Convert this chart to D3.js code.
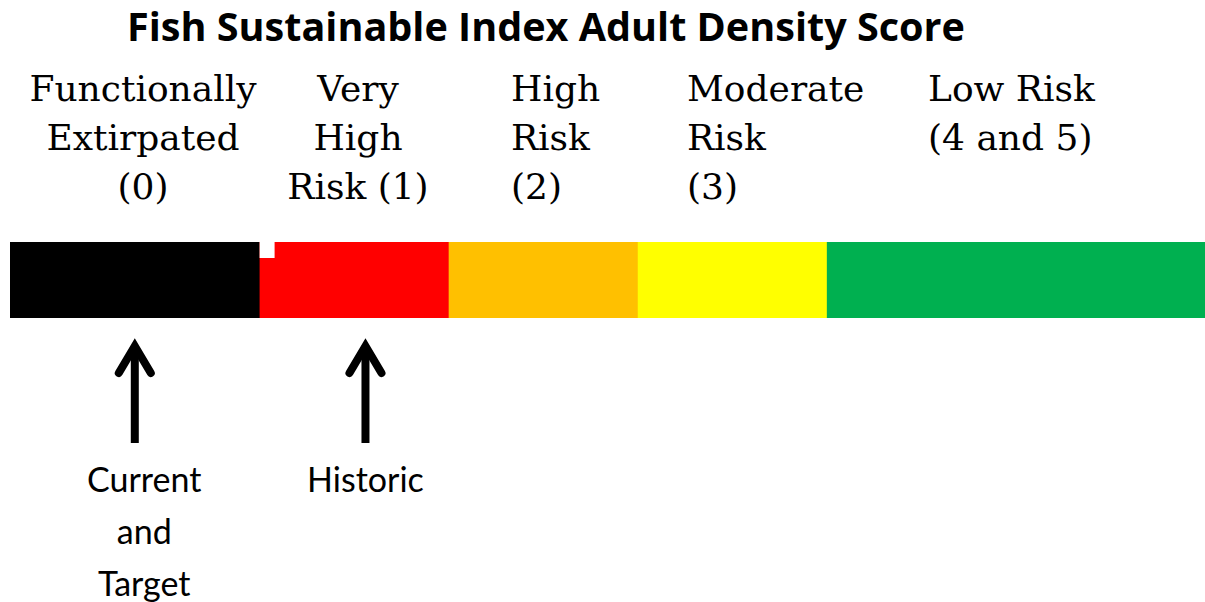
<!DOCTYPE html>
<html>
<head>
<meta charset="utf-8">
<script src="https://cdn.jsdelivr.net/npm/d3@7"></script>
<style>
  body { margin: 0; background: #fff; }
  svg { display: block; }
</style>
</head>
<body>
<div id="chart"></div>
<script>
// chart size
const width = 1205;
const height = 602;

// score categories, left to right
const categories = [
    ['Functionally', 'Extirpated', '(0)'],
    ['Very', 'High', 'Risk (1)'],
    ['High', 'Risk', '(2)'],
    ['Moderate', 'Risk', '(3)'],
    ['Low Risk', '(4 and 5)']
];
// segment edges, in bar units (first block is a bit wider, last holds 4 and 5)
const segmentEdges = [0, 1.32, 2.32, 3.32, 4.32, 6.32];
const segmentColors = ['#000000', '#ff0000', '#ffc000', '#ffff00', '#00b050'];

// markers under the bar
const markerNames = [['Current', 'and', 'Target'], ['Historic']];
const markerValues = [0.66, 1.88];
const markerLabelValues = [0.71, 1.88];

const title = 'Fish Sustainable Index Adult Density Score';

const svg = d3.select('#chart')
    .append('svg')
    .attr('width', width)
    .attr('height', height);

const x = d3.scaleLinear()
    .domain([0, segmentEdges[segmentEdges.length - 1]])
    .range([10, width]);

const barTop = 242;
const barHeight = 76;

// fit a text element to a width by changing its font size
function fitWidth(sel, target) {
    const size = parseFloat(sel.attr('font-size'));
    const w = sel.node().getComputedTextLength();
    sel.attr('font-size', (size * target / w).toFixed(2));
}

// title
const titleText = svg.append('text')
    .attr('x', 546)
    .attr('y', 41)
    .attr('text-anchor', 'middle')
    .attr('font-family', '"Open Sans", Lato, sans-serif')
    .attr('font-weight', 'bold')
    .attr('font-size', 36)
    .attr('fill', '#000')
    .text(title);
fitWidth(titleText, 838);

// colour bar
svg.selectAll('rect.seg')
    .data(segmentColors)
    .join('rect')
    .attr('class', 'seg')
    .attr('x', (d, i) => x(segmentEdges[i]))
    .attr('y', barTop)
    .attr('width', (d, i) => x(segmentEdges[i + 1]) - x(segmentEdges[i]) + 0.5)
    .attr('height', barHeight)
    .attr('fill', d => d);

// small white notch at top left of the red block
svg.append('rect')
    .attr('x', x(segmentEdges[1]))
    .attr('y', barTop)
    .attr('width', 15)
    .attr('height', 16)
    .attr('fill', '#fff');

// category labels: first two centred, the rest left aligned
const labelX = [143, 358, 511, 687, 928];
const labelAnchor = ['middle', 'middle', 'start', 'start', 'start'];
const labelSize = 36;
const lineGap = 49;

const catGroups = svg.selectAll('text.cat')
    .data(categories)
    .join('text')
    .attr('class', 'cat')
    .attr('x', (d, i) => labelX[i])
    .attr('y', 101)
    .attr('text-anchor', (d, i) => labelAnchor[i])
    .attr('font-family', '"DejaVu Serif", serif')
    .attr('font-size', labelSize)
    .attr('fill', '#000');

catGroups.each(function(lines, i) {
    d3.select(this).selectAll('tspan')
        .data(lines)
        .join('tspan')
        .attr('x', labelX[i])
        .attr('dy', (d, j) => j === 0 ? 0 : lineGap)
        .text(d => d);
});

// arrows
const arrowTop = 342;
const arrowBottom = 443;
markerValues.forEach(v => {
    const cx = x(v);
    svg.append('path')
        .attr('d', 'M' + cx + ',' + (arrowTop + 4) + 'L' + cx + ',' + arrowBottom)
        .attr('stroke', '#000')
        .attr('stroke-width', 8)
        .attr('fill', 'none');
    svg.append('path')
        .attr('d', 'M' + (cx - 16) + ',' + (arrowTop + 31) + 'L' + cx + ',' + (arrowTop + 4) + 'L' + (cx + 16) + ',' + (arrowTop + 31))
        .attr('stroke', '#000')
        .attr('stroke-width', 8)
        .attr('stroke-linecap', 'round')
        .attr('stroke-linejoin', 'miter')
        .attr('fill', 'none');
});

// marker labels
markerNames.forEach((lines, i) => {
    const t = svg.append('text')
        .attr('x', x(markerLabelValues[i]))
        .attr('y', 492)
        .attr('text-anchor', 'middle')
        .attr('font-family', 'Lato, "Open Sans", sans-serif')
        .attr('font-size', 34)
        .attr('fill', '#000');
    t.selectAll('tspan')
        .data(lines)
        .join('tspan')
        .attr('x', x(markerLabelValues[i]))
        .attr('dy', (d, j) => j === 0 ? 0 : 52)
        .text(d => d);
});
</script>
</body>
</html>
